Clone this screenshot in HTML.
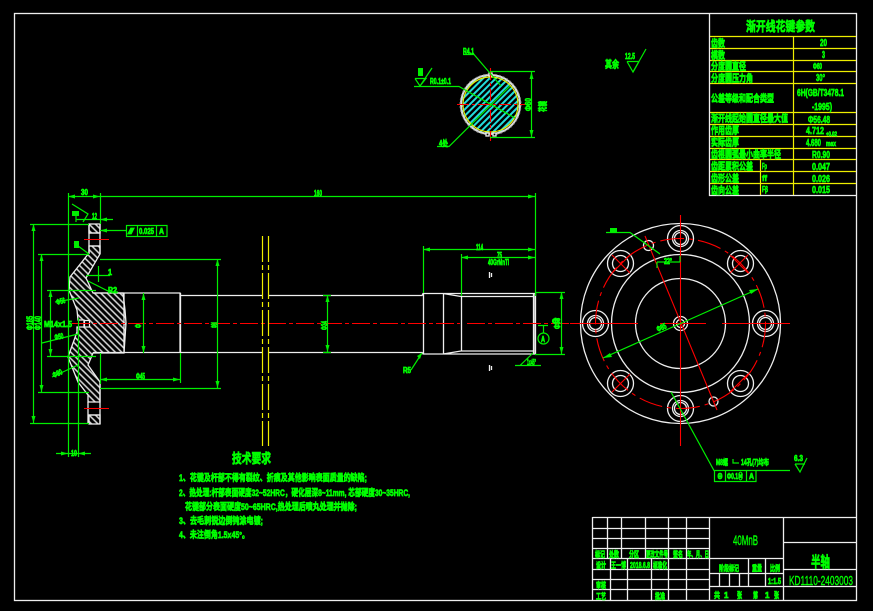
<!DOCTYPE html>
<html><head><meta charset="utf-8"><style>
html,body{margin:0;padding:0;background:#000;width:873px;height:611px;overflow:hidden}
svg{display:block}
text{font-family:"Liberation Sans","Noto Sans CJK SC",sans-serif;fill:#0f0;stroke:#0f0;stroke-width:.7;font-weight:700}
.w{stroke:#eee;fill:none;stroke-width:1.3}
.g{stroke:#0e0;fill:none;stroke-width:1.2}
.r{stroke:#f00;fill:none;stroke-width:1.1;stroke-dasharray:18 3 3 3}
.rs{stroke:#f00;fill:none;stroke-width:1.1}
.y{stroke:#ee0;fill:none;stroke-width:1.2}
.a{fill:#0e0;stroke:none}
</style></head><body>
<svg width="873" height="611" viewBox="0 0 873 611" xmlns="http://www.w3.org/2000/svg">
<defs>
<pattern id="h" width="4.500" height="4.500" patternUnits="userSpaceOnUse" patternTransform="rotate(45)"><rect width="4.500" height="4.500" fill="#000"/><line x1="0" y1="1" x2="4.500" y2="1" stroke="#ddd" stroke-width="1.5"/></pattern>
<pattern id="c" width="4.500" height="4.500" patternUnits="userSpaceOnUse" patternTransform="rotate(-45)"><rect width="4.500" height="4.500" fill="#000"/><line x1="0" y1="1" x2="4.500" y2="1" stroke="#2dd" stroke-width="2"/></pattern>
</defs>
<rect width="873" height="611" fill="#000"/>
<rect x="14.500" y="13.500" width="842" height="587" class="w"/>

<!-- parameter table -->
<path class="y" d="M709 36.500H856M709 48.500H856M709 60.500H856M709 71.500H856M709 83.500H856M709 112.500H856M709 124.500H856M709 136.500H856M709 148.500H856M709 159.500H856M709 171.500H856M709 183.500H856M793.500 36V195M760.500 159V195"/>
<path class="w" d="M709.500 13V195.500H856"/>
<text x="746" y="31" font-size="13" textLength="69" lengthAdjust="spacingAndGlyphs">渐开线花键参数</text>
<g font-size="10">
<text x="711" y="47" textLength="14" lengthAdjust="spacingAndGlyphs">齿数</text>
<text x="711" y="59" textLength="14" lengthAdjust="spacingAndGlyphs">模数</text>
<text x="711" y="70" textLength="35" lengthAdjust="spacingAndGlyphs">分度圆直径</text>
<text x="711" y="82" textLength="42" lengthAdjust="spacingAndGlyphs">分度圆压力角</text>
<text x="711" y="102" textLength="63" lengthAdjust="spacingAndGlyphs">公差等级和配合类型</text>
<text x="711" y="122" textLength="77" lengthAdjust="spacingAndGlyphs">渐开线起始圆直径最大值</text>
<text x="711" y="134" textLength="28" lengthAdjust="spacingAndGlyphs">作用齿厚</text>
<text x="711" y="146" textLength="28" lengthAdjust="spacingAndGlyphs">实际齿厚</text>
<text x="711" y="158" textLength="70" lengthAdjust="spacingAndGlyphs">齿根圆弧最小曲率半径</text>
<text x="711" y="170" textLength="42" lengthAdjust="spacingAndGlyphs">齿距累积公差</text>
<text x="711" y="182" textLength="28" lengthAdjust="spacingAndGlyphs">齿形公差</text>
<text x="711" y="194" textLength="28" lengthAdjust="spacingAndGlyphs">齿向公差</text>
<text x="820" y="46" textLength="7" lengthAdjust="spacingAndGlyphs">20</text>
<text x="822" y="58" textLength="3" lengthAdjust="spacingAndGlyphs">3</text>
<text x="813" y="69" textLength="9" lengthAdjust="spacingAndGlyphs" font-size="8">Φ60</text>
<text x="816" y="81" textLength="9" lengthAdjust="spacingAndGlyphs">30°</text>
<text x="797" y="96" textLength="47" lengthAdjust="spacingAndGlyphs">6H(GB/T3478.1</text>
<text x="812" y="110" textLength="20" lengthAdjust="spacingAndGlyphs">-1995)</text>
<text x="808" y="123" textLength="22" lengthAdjust="spacingAndGlyphs">Φ56.48</text>
<text x="806" y="134" textLength="18" lengthAdjust="spacingAndGlyphs">4.712</text>
<text x="826" y="136" textLength="11" lengthAdjust="spacingAndGlyphs" font-size="6">+0.02</text>
<text x="806" y="146" textLength="15" lengthAdjust="spacingAndGlyphs">4.680</text>
<text x="826" y="146" textLength="10" lengthAdjust="spacingAndGlyphs" font-size="7">max</text>
<text x="812" y="158" textLength="18" lengthAdjust="spacingAndGlyphs">R0.90</text>
<text x="812" y="170" textLength="18" lengthAdjust="spacingAndGlyphs">0.047</text>
<text x="812" y="182" textLength="18" lengthAdjust="spacingAndGlyphs">0.026</text>
<text x="812" y="193" textLength="18" lengthAdjust="spacingAndGlyphs">0.015</text>
<text x="762" y="169" textLength="5" lengthAdjust="spacingAndGlyphs" font-size="8">Fp</text>
<text x="762" y="181" textLength="5" lengthAdjust="spacingAndGlyphs" font-size="8">ff</text>
<text x="762" y="192" textLength="6" lengthAdjust="spacingAndGlyphs" font-size="8">Fβ</text>
</g>

<!-- section circle -->
<circle cx="490.500" cy="104.500" r="29.500" fill="url(#c)" stroke="#ddd" stroke-width="2"/>
<circle cx="490.500" cy="104.500" r="30.500" fill="none" stroke="#888" stroke-width="1" stroke-dasharray="2 2"/>
<circle cx="490.500" cy="104.500" r="27.500" class="y" stroke-width="1.3"/>
<rect x="486" y="133" width="3" height="3" class="w" stroke="#eee" style="fill:#000"/><rect x="493" y="133" width="3" height="3" class="w" style="fill:#000"/>
<rect x="489" y="73" width="3" height="3" class="w" style="fill:#000"/>
<path class="rs" stroke-dasharray="12 3 3 3" d="M490.500 68V141M457 104.500H525"/>
<path class="g" stroke-width="1.200" d="M463 54.500H474L501 86M414 86.500H459L515 118M437 146.500H449L510 86M420 86L432 68M415 78.500H426L420 86L415 78.500M490 71.500H535M490 137.500H535M531.500 72V137"/>
<path class="a" d="M531.500 72l-2 7h4zM531.500 137l-2-7h4z"/>
<text x="463" y="54" font-size="8" textLength="11" lengthAdjust="spacingAndGlyphs">R4.1</text>
<rect x="418" y="68" width="5" height="8" class="a"/>
<text x="430" y="84" font-size="8" textLength="21" lengthAdjust="spacingAndGlyphs">R0.1±0.1</text>
<text x="439" y="146" font-size="8" textLength="9" lengthAdjust="spacingAndGlyphs">4处</text>
<text transform="translate(531,111) rotate(-90)" font-size="8" x="0" y="0" textLength="13" lengthAdjust="spacingAndGlyphs">Φ60</text>
<text transform="translate(546,112) rotate(-90)" font-size="9" x="0" y="0" textLength="11" lengthAdjust="spacingAndGlyphs">花键</text>
<text x="605" y="68" font-size="10" textLength="14" lengthAdjust="spacingAndGlyphs">其余</text>
<text x="625" y="59" font-size="8" textLength="10" lengthAdjust="spacingAndGlyphs">12.5</text>
<path class="g" d="M627 61.500H639M627 61.500L633 72L646 49"/>
<path class="g" d="M639 61.500L633 72"/>

<!-- flange section -->
<g stroke="#eee" stroke-width="1.3" fill="url(#h)">
<path d="M89 224H100V233H89Z"/>
<path d="M89 415H100V424H89Z"/>
<path d="M89 246H100V254L86 278L93 293H123L125 310L126 323L124 353H93L88 365L100 382V402H88V395L78 382L68 357L77 332V327H84V320H78L77 310L69 290L70 277L89 253Z"/>
</g>
<rect x="84.500" y="320.500" width="5" height="6.500" fill="#000" stroke="#eee" stroke-width="1.2"/>
<path class="w" d="M89 224V254M100 224V254M89 233H100M89 246H100M88 402V424M100 382V424M88 415H100"/>
<!-- shaft -->
<path class="w" d="M93 293H180V352.500H93M124 293V353M180.500 293V353M180 295.500H262M268 295.500H422L423 293.500H535V354H423L422 352.500H268M262 352.500H180M423.500 293V354M443.500 293V354M461.500 296V351M533.500 293V354M535.500 293V354M443 293.500L461 296.500H533M443 354L461 351H533"/>
<path class="w" d="M489.500 272V278M491.500 273V277M489.500 365V371M491.500 366V370"/>
<path class="rs" stroke-dasharray="18 3 4 3" d="M72 323.500H460M467 323.500H570"/>
<path class="rs" d="M84 239.500H109M84 408.500H109"/>
<path class="y" stroke-dasharray="26 3 5 3" d="M262.500 236V446M268.500 236V446"/>

<!-- dims -->
<path class="g" d="M68.500 193V457M78.500 318V457M100.500 193V224M68 196.500H535M535.500 193V296M30 224.500H89M30 423.500H89M33.500 224V423M38 254.500H89M38 392.500H89M41.500 254V392M47 290.500H96M47 356.500H96M50.500 290V356M100 259.500H221M100 388.500H221M217.500 259V388M143.500 293V353M100.500 353V384M180.500 353V383M100 379.500H180M56 453.500H91M76 219.500H113M100 230.500H126M423.500 246V293M461.500 254V296M423 249.500H535M461 257.500H535M535 292.500H565M535 354.500H565M561.500 292V354M327.500 295V352M323 295.500H331M323 352.500H331M411 370L422 353M515 365.500H541M520 365.500L533 353M538 325.500H548M543.500 325V333M74 243L89 254M86 275.500H110M98.500 266V282M88 281L110 292L118 292M55 302L79 298M42 343L78 334M52 377L78 365M72 204L88 214L83 222M76 214V222"/>
<circle cx="543.500" cy="338.500" r="5.500" class="g"/>
<rect x="126.500" y="225.500" width="40.500" height="11" class="g"/>
<path class="g" d="M137.500 225V236M156.500 225V236"/>
<path class="a" d="M68 196.500l7-2v4zM100 196.500l-7-2v4zM535 196.500l-7-2v4zM33.500 224l-2 7h4zM33.500 423l-2-7h4zM41.500 254l-2 7h4zM41.500 392l-2-7h4zM50.500 290l-2 7h4zM50.500 356l-2-7h4zM217.500 259l-2 7h4zM217.500 388l-2-7h4zM143.500 293l-2 7h4zM143.500 353l-2-7h4zM100 379.500l7-2v4zM180 379.500l-7-2v4zM423 249.500l7-2v4zM535 249.500l-7-2v4zM461 257.500l7-2v4zM535 257.500l-7-2v4zM561.500 292l-2 7h4zM561.500 354l-2-7h4zM327.500 295l-2 7h4zM327.500 352l-2-7h4zM100 230.500l7-2v4zM100 219.500l7-2v4zM68 453.500l-7-2v4zM78 453.500l7-2v4zM422 353l-5 3 3 3z"/>
<g font-size="8">
<text x="81" y="195" textLength="7" lengthAdjust="spacingAndGlyphs">30</text>
<text x="92" y="219" textLength="5" lengthAdjust="spacingAndGlyphs">12</text>
<rect x="72" y="211" width="7" height="5" class="a"/>
<rect x="74" y="241" width="5" height="7" class="a"/>
<text x="108" y="275" textLength="4" lengthAdjust="spacingAndGlyphs">1</text>
<text x="108" y="293" textLength="9" lengthAdjust="spacingAndGlyphs">R2</text>
<text transform="translate(57,305) rotate(-15)" textLength="9" lengthAdjust="spacingAndGlyphs">Φ56</text>
<text transform="translate(55,340) rotate(-10)" textLength="9" lengthAdjust="spacingAndGlyphs">Φ50</text>
<text transform="translate(54,378) rotate(-25)" textLength="10" lengthAdjust="spacingAndGlyphs">Φ80</text>
<text transform="translate(33,330) rotate(-90)" textLength="14" lengthAdjust="spacingAndGlyphs" font-size="9">Φ185</text>
<text transform="translate(41,330) rotate(-90)" textLength="14" lengthAdjust="spacingAndGlyphs" font-size="9">Φ140</text>
<text x="44" y="327" textLength="28" lengthAdjust="spacingAndGlyphs">M14x1.5</text>
<text x="71" y="456" font-size="8" textLength="6" lengthAdjust="spacingAndGlyphs">10</text>
<text x="136" y="379" textLength="9" lengthAdjust="spacingAndGlyphs">Φ45</text>
<text transform="translate(141,328) rotate(-90)" textLength="4" lengthAdjust="spacingAndGlyphs">Φ</text>
<text transform="translate(217,328) rotate(-90)" textLength="6" lengthAdjust="spacingAndGlyphs">Φ80</text>
<text transform="translate(327,330) rotate(-90)" textLength="9" lengthAdjust="spacingAndGlyphs">Φ34</text>
<text x="314" y="196" textLength="8" lengthAdjust="spacingAndGlyphs">160</text>
<text x="476" y="250" textLength="7" lengthAdjust="spacingAndGlyphs">114</text>
<text x="497" y="258" textLength="5" lengthAdjust="spacingAndGlyphs">75</text>
<text x="488" y="265" textLength="21" lengthAdjust="spacingAndGlyphs">40GrMnTi</text>
<text x="403" y="373" textLength="8" lengthAdjust="spacingAndGlyphs">R5</text>
<text x="527" y="365" textLength="9" lengthAdjust="spacingAndGlyphs">1x45°</text>
<text x="541" y="342" textLength="4" lengthAdjust="spacingAndGlyphs" font-size="8">A</text>
<text x="552" y="324" textLength="7" lengthAdjust="spacingAndGlyphs">Φ</text>
<text transform="translate(560,329) rotate(-90)" textLength="11" lengthAdjust="spacingAndGlyphs">Φ38</text>
<text x="128" y="234" textLength="6" lengthAdjust="spacingAndGlyphs">/</text>
<text x="139" y="234" textLength="15" lengthAdjust="spacingAndGlyphs">0.025</text>
<text x="159" y="234" textLength="5" lengthAdjust="spacingAndGlyphs">A</text>
</g>

<!-- flange end view -->
<g class="w">
<circle cx="680.500" cy="323.500" r="100"/><circle cx="680.500" cy="323.500" r="69"/><circle cx="680.500" cy="323.500" r="45"/>
<circle cx="680.500" cy="323.500" r="7"/><circle cx="680.500" cy="323.500" r="4"/>
<circle cx="680.500" cy="238.500" r="13"/><circle cx="680.500" cy="238.500" r="8"/><circle cx="680.500" cy="238.500" r="6"/>
<circle cx="680.500" cy="408.500" r="13"/><circle cx="680.500" cy="408.500" r="8"/><circle cx="680.500" cy="408.500" r="6"/>
<circle cx="595.500" cy="323.500" r="13"/><circle cx="595.500" cy="323.500" r="8"/><circle cx="595.500" cy="323.500" r="6"/>
<circle cx="765.500" cy="323.500" r="13"/><circle cx="765.500" cy="323.500" r="8"/><circle cx="765.500" cy="323.500" r="6"/>
<circle cx="620.500" cy="263.500" r="13"/><circle cx="620.500" cy="263.500" r="8"/>
<circle cx="740.500" cy="263.500" r="13"/><circle cx="740.500" cy="263.500" r="8"/>
<circle cx="620.500" cy="383.500" r="13"/><circle cx="620.500" cy="383.500" r="8"/>
<circle cx="740.500" cy="383.500" r="13"/><circle cx="740.500" cy="383.500" r="8"/>
<circle cx="648.500" cy="245.500" r="5"/><circle cx="713.500" cy="401.500" r="4.500"/>
</g>
<circle cx="680.500" cy="323.500" r="85" class="rs" stroke-dasharray="24 5 4 5"/>
<path class="rs" d="M680.500 215V446M570 323.500H638M660 323.500H706M722 323.500H790M612 255L630 273M730 255L748 273M612 392L630 374M730 392L748 374M630 255L612 273M748 255L730 273M630 374L612 392M748 374L730 392M645 236L717 410"/>
<path class="g" d="M603 358L758 289M606 232.500H630L660 254M657 262H680M657 262V268M680 256V262M671 392L714 470.500H790M714.500 470V481.500H756V470M725.500 470V481M746.500 470V481M795 464H805M795 464L800 472L807 458"/>
<path class="a" d="M758 289l-9 1 2 4zM603 358l9-1-2-4z"/>
<g font-size="8">
<rect x="610" y="228" width="7" height="4" class="a"/>
<text x="664" y="264" textLength="8" lengthAdjust="spacingAndGlyphs">22°</text>
<text transform="translate(658,332) rotate(-24)" textLength="10" lengthAdjust="spacingAndGlyphs">Φ85</text>
<text x="716" y="465" textLength="12" lengthAdjust="spacingAndGlyphs">M8螺</text>
<path class="g" d="M733 459V463H739"/>
<text x="741" y="465" textLength="28" lengthAdjust="spacingAndGlyphs">14孔(7)均布</text>
<text x="727" y="479" textLength="16" lengthAdjust="spacingAndGlyphs">Φ0.1Ⓜ</text>
<text x="717" y="479" textLength="6" lengthAdjust="spacingAndGlyphs">⊕</text>
<text x="749" y="479" textLength="5" lengthAdjust="spacingAndGlyphs">A</text>
<text x="794" y="461" textLength="9" lengthAdjust="spacingAndGlyphs">6.3</text>
</g>

<!-- technical notes -->
<text x="232" y="463" font-size="13" textLength="39" lengthAdjust="spacingAndGlyphs">技术要求</text>
<g font-size="9.500">
<text x="179" y="481" textLength="188" lengthAdjust="spacingAndGlyphs">1、花键及杆部不得有裂纹、折痕及其他影响表面质量的缺陷;</text>
<text x="179" y="496" textLength="231" lengthAdjust="spacingAndGlyphs">2、热处理:杆部表面硬度32~52HRC，硬化层深8~11mm, 芯部硬度30~35HRC,</text>
<text x="185" y="510" textLength="172" lengthAdjust="spacingAndGlyphs">花键部分表面硬度50~65HRC,热处理后喷丸处理并抛除;</text>
<text x="179" y="524" textLength="84" lengthAdjust="spacingAndGlyphs">3、去毛刺锐边倒钝涂电镀;</text>
<text x="179" y="538" textLength="70" lengthAdjust="spacingAndGlyphs">4、未注倒角1.5x45°。</text>
</g>

<!-- title block -->
<path class="w" d="M592.500 517.500H856M592.500 517V600M592 528.500H709M592 538.500H709M592 548.500H709M592 558.500H783M592 569.500H709M592 579.500H709M592 589.500H709M607.500 517V558M621.500 517V558M645.500 517V558M668.500 517V600M686.500 517V600M610.500 558V600M627.500 558V600M651.500 558V600M709.500 517V600M783.500 517V600M783 542.500H856M783 569.500H856M709 573.500H783M709 586.500H856M748.500 558V586M765.500 558V586M719.500 573V586M729.500 573V586M739.500 573V586"/>
<g font-size="8">
<text x="595" y="557" textLength="10" lengthAdjust="spacingAndGlyphs">标记</text>
<text x="609" y="557" textLength="10" lengthAdjust="spacingAndGlyphs">处数</text>
<text x="629" y="557" textLength="10" lengthAdjust="spacingAndGlyphs">分区</text>
<text x="646" y="557" textLength="22" lengthAdjust="spacingAndGlyphs">更改文件号</text>
<text x="673" y="557" textLength="10" lengthAdjust="spacingAndGlyphs">签名</text>
<text x="687" y="557" textLength="22" lengthAdjust="spacingAndGlyphs">年、月、日</text>
<text x="596" y="568" textLength="10" lengthAdjust="spacingAndGlyphs">设计</text>
<text x="611" y="568" textLength="15" lengthAdjust="spacingAndGlyphs">王一博</text>
<text x="630" y="568" textLength="20" lengthAdjust="spacingAndGlyphs">2018.6.8</text>
<text x="653" y="568" textLength="14" lengthAdjust="spacingAndGlyphs">标准化</text>
<text x="596" y="588" textLength="10" lengthAdjust="spacingAndGlyphs">审核</text>
<text x="596" y="599" textLength="10" lengthAdjust="spacingAndGlyphs">工艺</text>
<text x="655" y="599" textLength="10" lengthAdjust="spacingAndGlyphs">批准</text>
<text x="719" y="571" textLength="20" lengthAdjust="spacingAndGlyphs">阶段标记</text>
<text x="752" y="571" textLength="10" lengthAdjust="spacingAndGlyphs">重量</text>
<text x="770" y="571" textLength="10" lengthAdjust="spacingAndGlyphs">比例</text>
<text x="768" y="584" textLength="13" lengthAdjust="spacingAndGlyphs">1:1.5</text>
<text x="714" y="598" textLength="6" lengthAdjust="spacingAndGlyphs">共</text>
<text x="724" y="598" textLength="3">1</text>
<text x="737" y="598" textLength="5" lengthAdjust="spacingAndGlyphs">张</text>
<text x="753" y="598" textLength="5" lengthAdjust="spacingAndGlyphs">第</text>
<text x="765" y="598" textLength="3">1</text>
<text x="774" y="598" textLength="5" lengthAdjust="spacingAndGlyphs">张</text>
</g>
<text x="733" y="545" font-size="14" textLength="25" lengthAdjust="spacingAndGlyphs" style="stroke-width:.4;font-weight:400">40MnB</text>
<text x="811" y="567" font-size="15" textLength="19" lengthAdjust="spacingAndGlyphs">半轴</text>
<text x="789" y="585" font-size="13" textLength="64" lengthAdjust="spacingAndGlyphs" style="stroke-width:.4;font-weight:400">KD1110-2403003</text>
</svg>
</body></html>
